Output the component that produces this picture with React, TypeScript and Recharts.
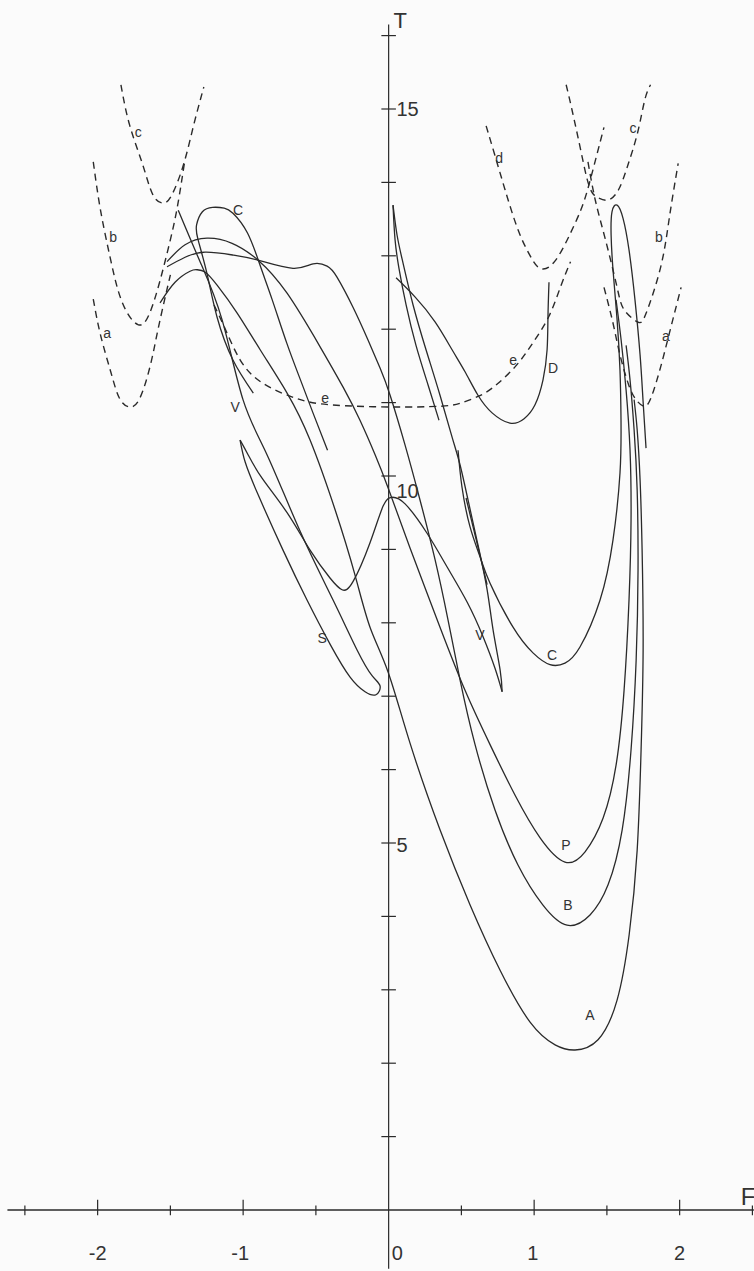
import React from "react";
import { ComposedChart, Line, XAxis, YAxis, ReferenceLine, ReferenceDot } from "recharts";

// dashed boundary curves (F, T)
const aLeft = [[-2.03, 12.41], [-1.98, 11.92], [-1.91, 11.42], [-1.85, 11.06], [-1.78, 10.94], [-1.71, 11.06], [-1.64, 11.49], [-1.59, 11.95], [-1.54, 12.40], [-1.50, 12.74]];
const bLeft = [[-2.03, 14.28], [-1.98, 13.62], [-1.91, 12.94], [-1.83, 12.36], [-1.72, 12.06], [-1.64, 12.23], [-1.57, 12.67], [-1.50, 13.22], [-1.45, 13.69], [-1.40, 14.31]];
const cLeft = [[-1.84, 15.33], [-1.78, 14.78], [-1.69, 14.24], [-1.62, 13.83], [-1.55, 13.72], [-1.49, 13.83], [-1.41, 14.24], [-1.34, 14.78], [-1.27, 15.30]];
const eLine = [[-1.20, 12.33], [-1.12, 11.99], [-1.02, 11.58], [-0.87, 11.27], [-0.64, 11.06], [-0.40, 10.97], [0.01, 10.94], [0.35, 10.95], [0.49, 10.99], [0.61, 11.08], [0.72, 11.21], [0.87, 11.49], [0.99, 11.81], [1.10, 12.17], [1.18, 12.57], [1.25, 12.92]];
const cRight = [[1.22, 15.33], [1.26, 14.99], [1.32, 14.44], [1.38, 13.94], [1.44, 13.79], [1.51, 13.76], [1.58, 13.90], [1.64, 14.21], [1.71, 14.67], [1.76, 15.12], [1.80, 15.33]];
const dRight = [[0.67, 14.77], [0.73, 14.37], [0.80, 13.90], [0.89, 13.35], [0.97, 13.01], [1.04, 12.83], [1.14, 12.92], [1.25, 13.31], [1.32, 13.62], [1.37, 13.92], [1.43, 14.37], [1.48, 14.75]];
const bRight = [[1.37, 14.28], [1.42, 13.76], [1.49, 13.22], [1.57, 12.57], [1.62, 12.26], [1.71, 12.10], [1.77, 12.22], [1.87, 12.85], [1.93, 13.53], [1.99, 14.26]];
const aRight = [[1.48, 12.57], [1.54, 12.10], [1.59, 11.65], [1.65, 11.24], [1.70, 11.04], [1.76, 10.95], [1.81, 11.10], [1.87, 11.49], [1.93, 11.95], [2.01, 12.57]];

// solid paths
const curveA = [[-1.571, 12.36], [-1.468, 12.64], [-1.365, 12.79], [-1.317, 12.81], [-1.262, 12.78], [-1.179, 12.60], [-1.041, 12.22], [-0.883, 11.72], [-0.698, 11.13], [-0.540, 10.49], [-0.368, 9.54], [-0.231, 8.65], [-0.128, 7.94], [-0.004, 7.33], [0.147, 6.36], [0.353, 5.18], [0.559, 4.16], [0.765, 3.27], [0.972, 2.56], [1.144, 2.25], [1.281, 2.18], [1.439, 2.32], [1.570, 2.86], [1.653, 3.75], [1.708, 4.90], [1.735, 6.27], [1.749, 7.63], [1.742, 8.99], [1.728, 9.95], [1.708, 10.63], [1.687, 11.04]];
const curveB = [[-1.523, 12.85], [-1.399, 12.98], [-1.261, 13.05], [-1.069, 13.01], [-0.897, 12.94], [-0.657, 12.83], [-0.519, 12.89], [-0.423, 12.86], [-0.355, 12.71], [-0.245, 12.30], [-0.141, 11.85], [-0.059, 11.47], [0.010, 11.10], [0.113, 10.42], [0.216, 9.67], [0.319, 8.86], [0.408, 8.04], [0.491, 7.22], [0.594, 6.34], [0.731, 5.45], [0.889, 4.70], [1.058, 4.16], [1.226, 3.88], [1.384, 4.02], [1.508, 4.43], [1.605, 5.18], [1.666, 6.27], [1.701, 7.49], [1.714, 8.72], [1.708, 9.81], [1.687, 10.63], [1.659, 11.31], [1.632, 11.78]];
const curveP = [[-1.523, 12.92], [-1.399, 13.15], [-1.248, 13.24], [-1.076, 13.17], [-0.897, 12.94], [-0.698, 12.49], [-0.471, 11.76], [-0.313, 11.21], [-0.197, 10.76], [-0.093, 10.29], [-0.004, 9.84], [0.147, 9.02], [0.353, 7.94], [0.525, 7.08], [0.697, 6.34], [0.869, 5.65], [1.041, 5.07], [1.212, 4.74], [1.350, 4.88], [1.474, 5.34], [1.563, 6.06], [1.618, 7.08], [1.652, 8.31], [1.666, 9.40], [1.659, 10.35], [1.632, 11.17], [1.598, 11.85], [1.563, 12.40]];
const hookC = [[-0.93, 11.13], [-1.07, 11.58], [-1.18, 12.17], [-1.25, 12.77], [-1.31, 13.22], [-1.32, 13.42], [-1.28, 13.60], [-1.21, 13.66], [-1.13, 13.65], [-1.07, 13.58], [-0.97, 13.31], [-0.88, 12.85], [-0.80, 12.40], [-0.70, 11.81], [-0.61, 11.33], [-0.52, 10.86], [-0.42, 10.35]];
const loopS = [[-1.446, 13.62], [-1.296, 12.92], [-1.145, 12.13], [-1.001, 11.04], [-0.836, 10.29], [-0.609, 9.25], [-0.382, 8.31], [-0.217, 7.63], [-0.114, 7.28], [-0.059, 7.14], [-0.087, 7.02], [-0.162, 7.06], [-0.265, 7.26], [-0.40, 7.70], [-0.561, 8.31], [-0.726, 8.99], [-0.896, 9.74], [-0.986, 10.19], [-1.021, 10.49]];
const peakS = [[-1.021, 10.49], [-0.966, 10.29], [-0.870, 9.97], [-0.698, 9.50], [-0.540, 8.99], [-0.403, 8.61], [-0.320, 8.45], [-0.245, 8.56], [-0.128, 9.09], [-0.038, 9.59], [0.023, 9.71], [0.113, 9.62], [0.264, 9.22], [0.402, 8.76], [0.540, 8.28], [0.649, 7.81], [0.731, 7.38], [0.780, 7.06]];
const riseV = [[0.780, 7.06], [0.766, 7.36], [0.718, 7.90], [0.677, 8.45], [0.614, 9.06], [0.546, 9.67], [0.491, 10.15], [0.436, 10.53], [0.353, 11.10], [0.257, 11.72], [0.168, 12.33], [0.099, 12.90], [0.058, 13.28], [0.030, 13.69]];
const spikeV = [[0.030, 13.69], [0.044, 13.22], [0.071, 12.83], [0.120, 12.33], [0.188, 11.78], [0.271, 11.24], [0.346, 10.76]];
const twinV = [[0.532, 9.70], [0.677, 8.52]];
const curveC = [[0.477, 10.35], [0.504, 9.85], [0.559, 9.31], [0.628, 8.90], [0.697, 8.54], [0.855, 7.94], [0.992, 7.59], [1.109, 7.43], [1.212, 7.45], [1.315, 7.67], [1.453, 8.31], [1.542, 9.13], [1.590, 10.04], [1.597, 10.76], [1.590, 11.44], [1.570, 12.13], [1.542, 12.81], [1.529, 13.28], [1.535, 13.60], [1.570, 13.69], [1.611, 13.51], [1.652, 13.08], [1.693, 12.40], [1.728, 11.65], [1.748, 11.04], [1.769, 10.38]];
const curveD = [[0.051, 12.70], [0.181, 12.44], [0.319, 12.10], [0.436, 11.72], [0.525, 11.42], [0.614, 11.10], [0.711, 10.86], [0.834, 10.72], [0.931, 10.78], [1.006, 10.97], [1.061, 11.31], [1.089, 11.72], [1.095, 12.17], [1.102, 12.64]];

// axis ticks and labels
const tTicks = [1, 2, 3, 4, 5, 6, 7, 8, 9, 10, 11, 12, 13, 14, 15, 16];
const tLabels = [{ t: 15.0, text: "15" }, { t: 9.8, text: "10" }, { t: 4.98, text: "5" }];
const fMajor = [-2, -1, 1, 2];
const fMinor = [-2.5, -1.5, -0.5, 0.5, 1.5, 2.5];
const fLabels = [{ f: -2.0, text: "-2" }, { f: -1.02, text: "-1" }, { f: 0.06, text: "0" }, { f: 0.99, text: "1" }, { f: 2.0, text: "2" }];

const curveLabels = [
  { f: -1.72, t: 14.69, text: "c" }, { f: -1.894, t: 13.26, text: "b" }, { f: -1.935, t: 11.95, text: "a" },
  { f: -1.035, t: 13.62, text: "C" }, { f: -1.054, t: 10.94, text: "V" }, { f: -0.437, t: 11.06, text: "e" },
  { f: 0.759, t: 14.33, text: "d" }, { f: 1.68, t: 14.74, text: "c" }, { f: 1.858, t: 13.26, text: "b" },
  { f: 1.906, t: 11.91, text: "a" }, { f: 0.855, t: 11.58, text: "e" }, { f: 1.13, t: 11.47, text: "D" },
  { f: -0.457, t: 7.79, text: "S" }, { f: 0.628, t: 7.83, text: "V" }, { f: 1.123, t: 7.56, text: "C" },
  { f: 1.219, t: 4.97, text: "P" }, { f: 1.233, t: 4.16, text: "B" }, { f: 1.384, t: 2.66, text: "A" },
];

const dashed = [aLeft, bLeft, cLeft, eLine, cRight, dRight, bRight, aRight];
const solid = [curveA, curveB, curveP, hookC, loopS, peakS, riseV, spikeV, twinV, curveC, curveD];

const toPts = (arr: number[][]) => arr.map(([F, T]) => ({ F, T }));

const INK = "#2a2a2a";
const FONT = "'Liberation Sans', Arial, sans-serif";
const txt = (value: string, size: number, position: string = "center", offset = 0) => ({
  value, position, offset, fontSize: size, fill: "#333", fontFamily: FONT,
});

export default function App() {
  return (
    <div style={{ position: "fixed", left: 0, top: 0, width: 754, height: 1271, background: "#fbfbfb" }}>
      <ComposedChart width={754} height={1271} margin={{ top: 0, right: 0, bottom: 0, left: 0 }}>
        <XAxis type="number" dataKey="F" domain={[-2.671, 2.511]} allowDataOverflow hide />
        <YAxis type="number" dataKey="T" domain={[-0.831, 16.485]} allowDataOverflow hide />

        {/* axes drawn through the origin */}
        <ReferenceLine segment={[{ x: 0, y: -0.8 }, { x: 0, y: 16.15 }]} stroke={INK} strokeWidth={1.2} ifOverflow="visible" />
        <ReferenceLine segment={[{ x: -2.62, y: 0 }, { x: 2.51, y: 0 }]} stroke={INK} strokeWidth={1.5} ifOverflow="visible" />
        {tTicks.map((t) => (
          <ReferenceLine key={`ty${t}`} segment={[{ x: -0.05, y: t }, { x: 0.05, y: t }]} stroke={INK} strokeWidth={1.2} />
        ))}
        {fMajor.map((f) => (
          <ReferenceLine key={`fx${f}`} segment={[{ x: f, y: -0.07 }, { x: f, y: 0.14 }]} stroke={INK} strokeWidth={1.2} />
        ))}
        {fMinor.map((f) => (
          <ReferenceLine key={`fm${f}`} segment={[{ x: f, y: -0.07 }, { x: f, y: 0.06 }]} stroke={INK} strokeWidth={1.2} />
        ))}

        {dashed.map((d, i) => (
          <Line key={`d${i}`} data={toPts(d)} dataKey="T" type="natural" dot={false} activeDot={false}
            stroke={INK} strokeWidth={1.4} strokeDasharray="7 5" isAnimationActive={false} />
        ))}
        {solid.map((d, i) => (
          <Line key={`s${i}`} data={toPts(d)} dataKey="T" type="natural" dot={false} activeDot={false}
            stroke={INK} strokeWidth={1.3} isAnimationActive={false} />
        ))}

        {tLabels.map((l) => (
          <ReferenceDot key={`tl${l.text}`} x={0.04} y={l.t} r={0} fill="none" stroke="none" label={txt(l.text, 20, "right", 2)} />
        ))}
        {fLabels.map((l) => (
          <ReferenceDot key={`fl${l.text}`} x={l.f} y={-0.59} r={0} fill="none" stroke="none" label={txt(l.text, 20)} />
        ))}
        <ReferenceDot x={0.08} y={16.21} r={0} fill="none" stroke="none" label={txt("T", 22)} />
        <ReferenceDot x={2.47} y={0.18} r={0} fill="none" stroke="none" label={txt("F", 24)} />

        {curveLabels.map((l, i) => (
          <ReferenceDot key={`cl${i}`} x={l.f} y={l.t} r={0} fill="none" stroke="none" label={txt(l.text, 14)} />
        ))}
      </ComposedChart>
    </div>
  );
}
